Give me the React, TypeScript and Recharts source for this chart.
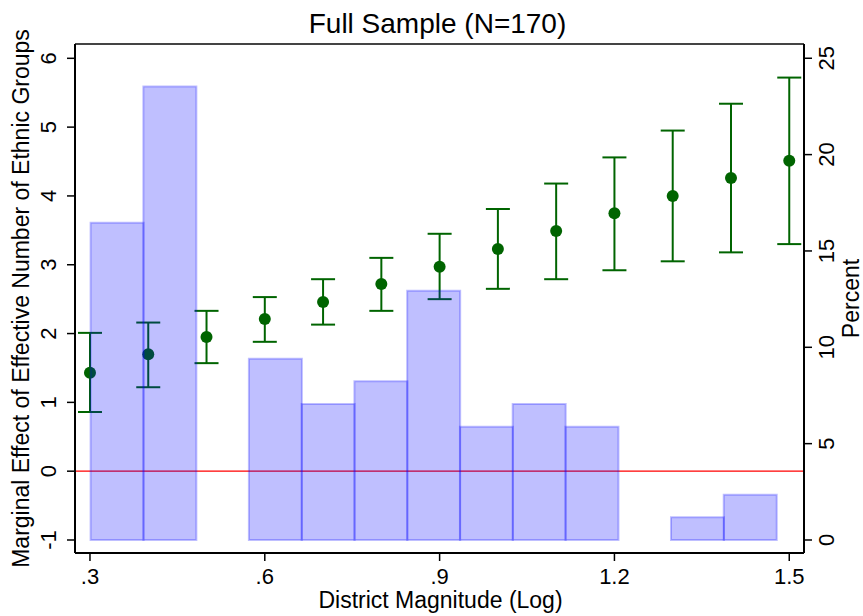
import { ComposedChart, Bar, Scatter, ErrorBar, XAxis, YAxis, ReferenceLine } from 'recharts';

// marginal effect at each district magnitude (log)
const magnitude = [0.3, 0.4, 0.5, 0.6, 0.7, 0.8, 0.9, 1.0, 1.1, 1.2, 1.3, 1.4, 1.5];
const effect = [1.43, 1.70, 1.95, 2.21, 2.46, 2.72, 2.97, 3.23, 3.49, 3.75, 4.00, 4.26, 4.51];
const ciLow = [0.86, 1.22, 1.57, 1.88, 2.13, 2.33, 2.50, 2.65, 2.79, 2.92, 3.05, 3.18, 3.30];
const ciHigh = [2.01, 2.16, 2.33, 2.53, 2.79, 3.10, 3.45, 3.81, 4.18, 4.56, 4.95, 5.34, 5.72];

// histogram of district magnitude, percent of N=170
const bins = ['.30', '.39', '.48', '.57', '.66', '.75', '.84', '.94', '1.03', '1.12', '1.21', '1.30', '1.39'];
const percent = [16.47, 23.53, 0, 9.41, 7.06, 8.24, 12.94, 5.88, 7.06, 5.88, 0, 1.18, 2.35];

const xTicks = [0.3, 0.6, 0.9, 1.2, 1.5];
const xTickLabels = ['.3', '.6', '.9', '1.2', '1.5'];
const leftTicks = [-1, 0, 1, 2, 3, 4, 5, 6];
const rightTicks = [0, 5, 10, 15, 20, 25];

const points = magnitude.map((x, i) => ({
  x,
  y: effect[i],
  err: [effect[i] - ciLow[i], ciHigh[i] - effect[i]],
}));
const hist = bins.map((bin, i) => ({ bin, pct: percent[i] }));

const FONT = '"Liberation Sans", Arial, sans-serif';
const GREEN = '#006400';

const XTick = (props: any) => {
  const { x, y, payload } = props;
  const i = xTicks.indexOf(payload.value);
  return (
    <text x={x} y={y} textAnchor="middle" fontSize={22} fontFamily={FONT} fill="#000">
      {i >= 0 ? xTickLabels[i] : payload.value}
    </text>
  );
};

const VTick = (props: any) => {
  const { x, y, payload } = props;
  return (
    <text x={x} y={y} transform={`rotate(-90 ${x} ${y})`} textAnchor="middle" fontSize={22} fontFamily={FONT} fill="#000">
      {payload.value}
    </text>
  );
};

const LeftTitle = (props: any) => {
  const vb = props.viewBox;
  const cx = 29;
  const cy = vb.y + vb.height / 2;
  return (
    <text x={cx} y={cy} transform={`rotate(-90 ${cx} ${cy})`} textAnchor="middle" fontSize={23} fontFamily={FONT} fill="#000">
      Marginal Effect of Effective Number of Ethnic Groups
    </text>
  );
};

const RightTitle = (props: any) => {
  const vb = props.viewBox;
  const cx = 859;
  const cy = vb.y + vb.height / 2;
  return (
    <text x={cx} y={cy} transform={`rotate(-90 ${cx} ${cy})`} textAnchor="middle" fontSize={23} fontFamily={FONT} fill="#000">
      Percent
    </text>
  );
};

const BottomTitle = (props: any) => {
  const vb = props.viewBox;
  return (
    <text x={vb.x + vb.width / 2 + 1} y={608} textAnchor="middle" fontSize={23} fontFamily={FONT} fill="#000">
      District Magnitude (Log)
    </text>
  );
};

const TopTitle = (props: any) => {
  const vb = props.viewBox;
  return (
    <text x={vb.x + vb.width / 2 - 2} y={33} textAnchor="middle" fontSize={28} fontFamily={FONT} fill="#000">
      Full Sample (N=170)
    </text>
  );
};

const Dot = (props: any) => <circle cx={props.cx} cy={props.cy} r={6} fill={GREEN} />;

export default function App() {
  return (
    <div style={{ position: 'absolute', left: 0, top: 0, background: '#fff' }}>
      <ComposedChart
        width={863}
        height={616}
        data={hist}
        barCategoryGap={0}
        barGap={0}
        margin={{ top: 43, right: 0, bottom: 0, left: 0 }}
      >
        <XAxis
          xAxisId="bins"
          dataKey="bin"
          orientation="top"
          height={1}
          tick={false}
          tickLine={false}
          padding={{ left: 15.6, right: 27.5 }}
          axisLine={{ stroke: '#444', strokeWidth: 2 }}
          label={<TopTitle />}
        />
        <XAxis
          xAxisId="num"
          dataKey="x"
          type="number"
          domain={[0.2743, 1.5253]}
          allowDataOverflow
          ticks={xTicks}
          height={63}
          tickSize={8}
          tickMargin={23}
          tick={<XTick />}
          tickLine={{ stroke: '#000', strokeWidth: 1.5 }}
          axisLine={{ stroke: '#000', strokeWidth: 2 }}
          label={<BottomTitle />}
        />
        <YAxis
          yAxisId="left"
          dataKey="y"
          type="number"
          domain={[-1.189, 6.208]}
          allowDataOverflow
          ticks={leftTicks}
          width={75}
          tickSize={8}
          tickMargin={11}
          tick={<VTick />}
          tickLine={{ stroke: '#000', strokeWidth: 1.5 }}
          axisLine={{ stroke: '#000', strokeWidth: 2 }}
          label={<LeftTitle />}
        />
        <YAxis
          yAxisId="right"
          orientation="right"
          type="number"
          domain={[-0.675, 25.74]}
          allowDataOverflow
          ticks={rightTicks}
          width={59}
          tickSize={8}
          tickMargin={22}
          tick={<VTick />}
          tickLine={{ stroke: '#000', strokeWidth: 1.5 }}
          axisLine={{ stroke: '#000', strokeWidth: 2 }}
          label={<RightTitle />}
        />
        <ReferenceLine yAxisId="left" xAxisId="num" y={0} stroke="#ff0000" strokeWidth={1.2} />
        <Scatter
          data={points}
          xAxisId="num"
          yAxisId="left"
          dataKey="y"
          shape={<Dot />}
          isAnimationActive={false}
        >
          <ErrorBar dataKey="err" direction="y" width={12} stroke={GREEN} strokeWidth={2} />
        </Scatter>
        <Bar
          xAxisId="bins"
          yAxisId="right"
          dataKey="pct"
          fill="#0000ff"
          fillOpacity={0.25}
          stroke="#0000ff"
          strokeOpacity={0.25}
          strokeWidth={2}
          isAnimationActive={false}
          zIndex={700}
        />
      </ComposedChart>
    </div>
  );
}
